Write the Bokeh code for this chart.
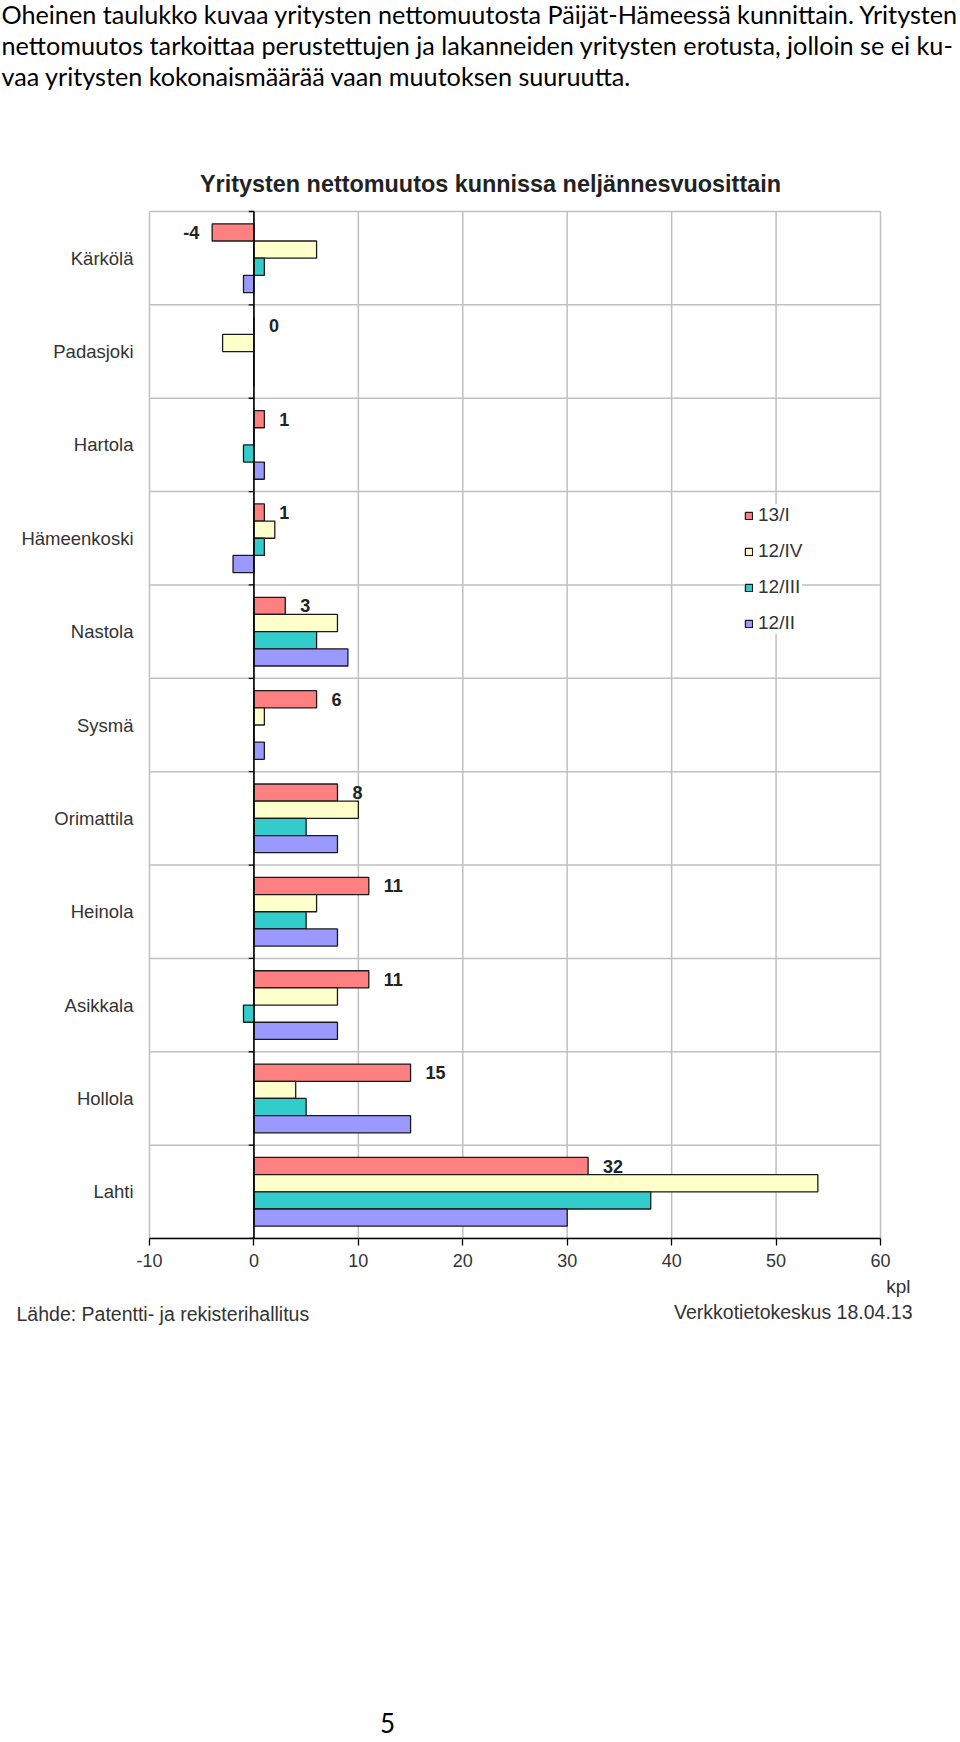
from bokeh.plotting import figure
from bokeh.models import ColumnDataSource, Range1d, FixedTicker, Legend, LegendItem
from bokeh.layouts import column
from bokeh.transform import dodge
from bokeh.core.properties import value
from bokeh.embed import file_html
from bokeh.resources import INLINE

# ---------------- data ----------------
municipalities = ["Kärkölä", "Padasjoki", "Hartola", "Hämeenkoski", "Nastola", "Sysmä",
                  "Orimattila", "Heinola", "Asikkala", "Hollola", "Lahti"]
q13_I   = [-4, 0, 1, 1, 3, 6, 8, 11, 11, 15, 32]
q12_IV  = [6, -3, 0, 2, 8, 1, 10, 6, 8, 4, 54]
q12_III = [1, 0, -1, 1, 6, 0, 5, 5, -1, 5, 38]
q12_II  = [-1, 0, 1, -2, 9, 1, 8, 8, 8, 15, 30]
series_names = ["13/I", "12/IV", "12/III", "12/II"]
x_ticks = [-10, 0, 10, 20, 30, 40, 50, 60]

intro_lines = [
    "Oheinen taulukko kuvaa yritysten nettomuutosta Päijät-Hämeessä kunnittain. Yritysten",
    "nettomuutos tarkoittaa perustettujen ja lakanneiden yritysten erotusta, jolloin se ei ku-",
    "vaa yritysten kokonaismäärää vaan muutoksen suuruutta.",
]
chart_title = "Yritysten nettomuutos kunnissa neljännesvuosittain"
unit_label = "kpl"
source_left = "Lähde: Patentti- ja rekisterihallitus"
source_right = "Verkkotietokeskus 18.04.13"
page_number = "5"

# ---------------- layout / styles ----------------
colors = ["#FF8080", "#FFFFCC", "#33CCCC", "#9999FF"]
offsets = [-0.276, -0.092, 0.092, 0.276]
bar_h = 0.184
W = 960
PLOT_L, PLOT_R, PLOT_T, PLOT_B = 149, 880, 211, 1238   # plot-area box in page pixels
HEAD_H = 201            # header figure height (page 0..201)
CH_BOTTOM = 37          # space below chart frame for the x axis
FOOT_TOP = PLOT_B + CH_BOTTOM
FOOT_H = 1742 - FOOT_TOP
BODY_FONT = "Lato"
CHART_FONT = "Liberation Sans"
n = len(municipalities)

px_per_unit = (PLOT_R - PLOT_L) / (x_ticks[-1] - x_ticks[0])
px_per_cat = (PLOT_B - PLOT_T) / n
frame_h = PLOT_B - HEAD_H
x_start = x_ticks[0] - PLOT_L / px_per_unit
x_end = x_ticks[-1] + (W - PLOT_R) / px_per_unit
y_end = n - frame_h / px_per_cat


def text_fig(h):
    f = figure(width=W, height=h, x_range=Range1d(0, W), y_range=Range1d(h, 0),
               x_axis_type=None, y_axis_type=None, output_backend="svg",
               toolbar_location=None, min_border=0)
    f.grid.visible = False
    f.outline_line_color = None
    f.background_fill_color = "white"
    f.border_fill_color = "white"
    return f


# ---------------- header ----------------
head = text_fig(HEAD_H)
head.text(x=[1, 1, 1], y=[13, 44, 75], text=intro_lines,
          text_font=value(BODY_FONT), text_font_size="25.2px", text_color="#000000",
          text_baseline="middle", text_align="left")
head.text(x=[490], y=[183], text=[chart_title], text_font=value(CHART_FONT),
          text_font_size="23.4px", text_font_style="bold", text_color="#222222",
          text_baseline="middle", text_align="center")

# ---------------- chart ----------------
p = figure(width=W, height=frame_h + CH_BOTTOM, x_range=Range1d(x_start, x_end),
           y_range=Range1d(n, y_end), y_axis_type=None, output_backend="svg",
           toolbar_location=None, min_border_left=0, min_border_right=0,
           min_border_top=0, min_border_bottom=CH_BOTTOM)
p.background_fill_color = "white"
p.border_fill_color = "white"
p.outline_line_color = None
p.xgrid.visible = False

bounds = list(range(n + 1))
grid_kw = dict(line_color="#c0c0c0", line_width=1.5)
# plot-area grid and frame lines (from tick / category boundary lists)
p.segment(x0=x_ticks, y0=[0] * len(x_ticks), x1=x_ticks, y1=[n] * len(x_ticks), **grid_kw)
p.segment(x0=[x_ticks[0]] * len(bounds), y0=bounds, x1=[x_ticks[-1]] * len(bounds), y1=bounds,
          **grid_kw)

src = ColumnDataSource(dict(
    yc=[i + 0.5 for i in range(n)], name=municipalities,
    s0=q13_I, s1=q12_IV, s2=q12_III, s3=q12_II,
))

renderers = []
for k, (col, c) in enumerate(zip(["s0", "s1", "s2", "s3"], colors)):
    r = p.hbar(y=dodge("yc", offsets[k], range=p.y_range), left=0, right=col, height=bar_h,
               source=src, fill_color=c, line_color="#1a1a1a", line_width=1.3)
    renderers.append(r)

# zero axis line and its category ticks
p.segment(x0=[0], y0=[0], x1=[0], y1=[n], line_color="#000000", line_width=1.6)
p.segment(x0=[-0.5] * len(bounds), y0=bounds, x1=[0] * len(bounds), y1=bounds,
          line_color="#000000", line_width=1.3)

# category labels
p.text(x=x_ticks[0], y="yc", text="name", source=src, x_offset=-16, text_align="right",
       text_baseline="middle", text_font=value(CHART_FONT), text_font_size="18.5px",
       text_color="#333333")

# value labels for 13/I
pos = [(i + 0.5, v) for i, v in enumerate(q13_I) if v >= 0]
neg = [(i + 0.5, v) for i, v in enumerate(q13_I) if v < 0]
lbl_kw = dict(text_font=value(CHART_FONT), text_font_size="18px", text_font_style="bold",
              text_color="#222222", text_baseline="middle")
pos_src = ColumnDataSource(dict(x=[v for _, v in pos], y=[y for y, _ in pos], t=[str(v) for _, v in pos]))
neg_src = ColumnDataSource(dict(x=[v for _, v in neg], y=[y for y, _ in neg], t=[str(v) for _, v in neg]))
p.text(x="x", y=dodge("y", offsets[0], range=p.y_range), text="t", source=pos_src,
       x_offset=15, text_align="left", **lbl_kw)
p.text(x="x", y=dodge("y", offsets[0], range=p.y_range), text="t", source=neg_src,
       x_offset=-13, text_align="right", **lbl_kw)

# x axis
ax = p.xaxis[0]
ax.bounds = (x_ticks[0], x_ticks[-1])
ax.ticker = FixedTicker(ticks=x_ticks)
ax.major_label_overrides = {t: str(t) for t in x_ticks}
ax.axis_line_color = "#000000"
ax.axis_line_width = 1.6
ax.major_tick_line_color = "#000000"
ax.major_tick_line_width = 1.3
ax.major_tick_out = 7
ax.major_tick_in = 0
ax.minor_tick_line_color = None
ax.major_label_text_font = CHART_FONT
ax.major_label_text_font_size = "18px"
ax.major_label_text_color = "#333333"
ax.major_label_standoff = 8

legend = Legend(items=[LegendItem(label=nm, renderers=[r]) for nm, r in zip(series_names, renderers)],
                location=(744, 604), orientation="vertical", glyph_width=9, glyph_height=9,
                label_height=20, spacing=14, label_standoff=5, padding=4, margin=0,
                border_line_color=None, background_fill_color="white", background_fill_alpha=1.0,
                label_text_font=CHART_FONT, label_text_font_size="19px",
                label_text_color="#333333")
p.add_layout(legend)

# ---------------- footer ----------------
foot = text_fig(FOOT_H)
ft_kw = dict(text_font=value(CHART_FONT), text_font_size="19.5px", text_color="#333333",
             text_baseline="middle")
foot.text(x=[910], y=[1286 - FOOT_TOP], text=[unit_label], text_align="right",
          **{**ft_kw, "text_font_size": "19px"})
foot.text(x=[16], y=[1313 - FOOT_TOP], text=[source_left], text_align="left", **ft_kw)
foot.text(x=[912], y=[1311 - FOOT_TOP], text=[source_right], text_align="right", **ft_kw)
foot.text(x=[387], y=[1722 - FOOT_TOP], text=[page_number], text_font=value(BODY_FONT),
          text_font_size="26px", text_color="#000000", text_baseline="middle",
          text_align="center")

layout = column(head, p, foot, spacing=0)
open("out.html", "w").write(file_html(layout, INLINE))
